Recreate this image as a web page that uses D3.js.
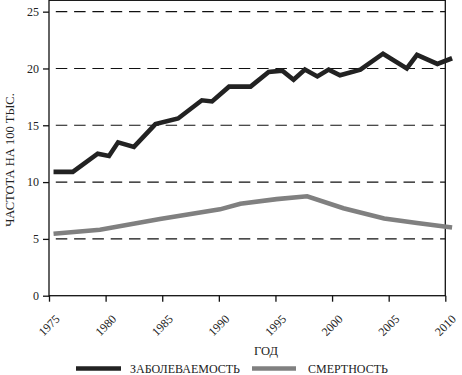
<!DOCTYPE html>
<html><head><meta charset="utf-8">
<script src="https://cdn.jsdelivr.net/npm/d3@7"></script>
<style>
body{margin:0;background:#fff;}
text{font-family:"Liberation Serif","DejaVu Serif",serif;fill:#222;}
</style></head>
<body><svg id="c" width="462" height="375"></svg>
<script>
const yTicks = [0, 5, 10, 15, 20, 25];
const xTicks = [1975, 1980, 1985, 1990, 1995, 2000, 2005, 2010];
const incidenceYears = [1975.4, 1977.1, 1979.3, 1980.3, 1981.1, 1982.5, 1984.4, 1986.4, 1988.5, 1989.4, 1990.9, 1992.8, 1994.4, 1995.6, 1996.6, 1997.6, 1998.7, 1999.7, 2000.7, 2002.5, 2004.5, 2006.6, 2007.5, 2009.3, 2010.6];
const incidenceValues = [10.9, 10.9, 12.5, 12.3, 13.5, 13.1, 15.1, 15.6, 17.2, 17.1, 18.4, 18.4, 19.7, 19.8, 19.0, 19.9, 19.3, 19.9, 19.4, 19.9, 21.3, 20.0, 21.2, 20.4, 20.9];
const mortalityYears = [1975.4, 1979.5, 1984.8, 1990.1, 1991.9, 1995.1, 1997.8, 2001.0, 2004.6, 2007.5, 2010.6];
const mortalityValues = [5.45, 5.8, 6.75, 7.6, 8.1, 8.5, 8.75, 7.7, 6.8, 6.4, 6.0];
const seriesNames = ["ЗАБОЛЕВАЕМОСТЬ", "СМЕРТНОСТЬ"];
const seriesColors = ["#222222", "#808080"];
const yTitle = "ЧАСТОТА НА 100 ТЫС.";
const xTitle = "ГОД";

const svg = d3.select("#c");
const x = d3.scaleLinear().domain([1975, 2010]).range([49, 445.3]);
const y = d3.scaleLinear().domain([0, 26]).range([295.7, 0.3]);

// gridlines
svg.append("g").selectAll("line").data(yTicks.filter(d => d > 0)).join("line")
  .attr("x1", x(1975)).attr("x2", x(2010))
  .attr("y1", d => y(d)).attr("y2", d => y(d))
  .attr("stroke", "#111").attr("stroke-width", 1.1)
  .attr("stroke-dasharray", "11.5,6.8").attr("stroke-dashoffset", 11.5);

// frame
svg.append("rect").attr("x", x(1975)).attr("y", y(26))
  .attr("width", x(2010) - x(1975)).attr("height", y(0) - y(26))
  .attr("fill", "none").attr("stroke", "#111").attr("stroke-width", 1.3);

// y axis
const ya = svg.append("g").attr("transform", `translate(${x(1975)},0)`)
  .call(d3.axisLeft(y).tickValues(yTicks).tickSize(6).tickPadding(4).tickFormat(d3.format("d")));
ya.select(".domain").remove();
ya.selectAll("line").attr("stroke", "#111").attr("stroke-width", 1.3);
ya.selectAll("text").attr("font-size", 12).style("font-family", '"Liberation Serif",serif').attr("fill", "#222");

// x axis
const xa = svg.append("g").attr("transform", `translate(0,${y(0)})`)
  .call(d3.axisBottom(x).tickValues(xTicks).tickSize(6).tickFormat(d3.format("d")));
xa.select(".domain").remove();
xa.selectAll("line").attr("stroke", "#111").attr("stroke-width", 1.3);
xa.selectAll("text").attr("font-size", 12).style("font-family", '"Liberation Serif",serif').attr("fill", "#222")
  .attr("text-anchor", "end").attr("dy", 0)
  .attr("transform", "translate(11,24) rotate(-45)").attr("y", 0).attr("x", 0);

// lines
const line = d3.line().x(d => x(d[0])).y(d => y(d[1]));
svg.append("path").datum(mortalityYears.map((t, i) => [t, mortalityValues[i]]))
  .attr("d", line).attr("fill", "none").attr("stroke", seriesColors[1]).attr("stroke-width", 4.6)
  .attr("stroke-linejoin", "miter");
svg.append("path").datum(incidenceYears.map((t, i) => [t, incidenceValues[i]]))
  .attr("d", line).attr("fill", "none").attr("stroke", seriesColors[0]).attr("stroke-width", 4.6)
  .attr("stroke-linejoin", "miter");

// titles
svg.append("text").attr("transform", "translate(14,160) rotate(-90)")
  .attr("text-anchor", "middle").attr("font-size", 12.5).text(yTitle);
svg.append("text").attr("x", 266).attr("y", 355).attr("text-anchor", "middle")
  .attr("font-size", 12.5).text(xTitle);

// legend
const leg = [{x0: 76, x1: 121, tx: 130}, {x0: 252, x1: 296, tx: 308}];
leg.forEach((l, i) => {
  svg.append("line").attr("x1", l.x0).attr("x2", l.x1).attr("y1", 368.5).attr("y2", 368.5)
    .attr("stroke", seriesColors[i]).attr("stroke-width", 4.7);
  svg.append("text").attr("x", l.tx).attr("y", 372.5).attr("font-size", 12).text(seriesNames[i]);
});
</script></body></html>
